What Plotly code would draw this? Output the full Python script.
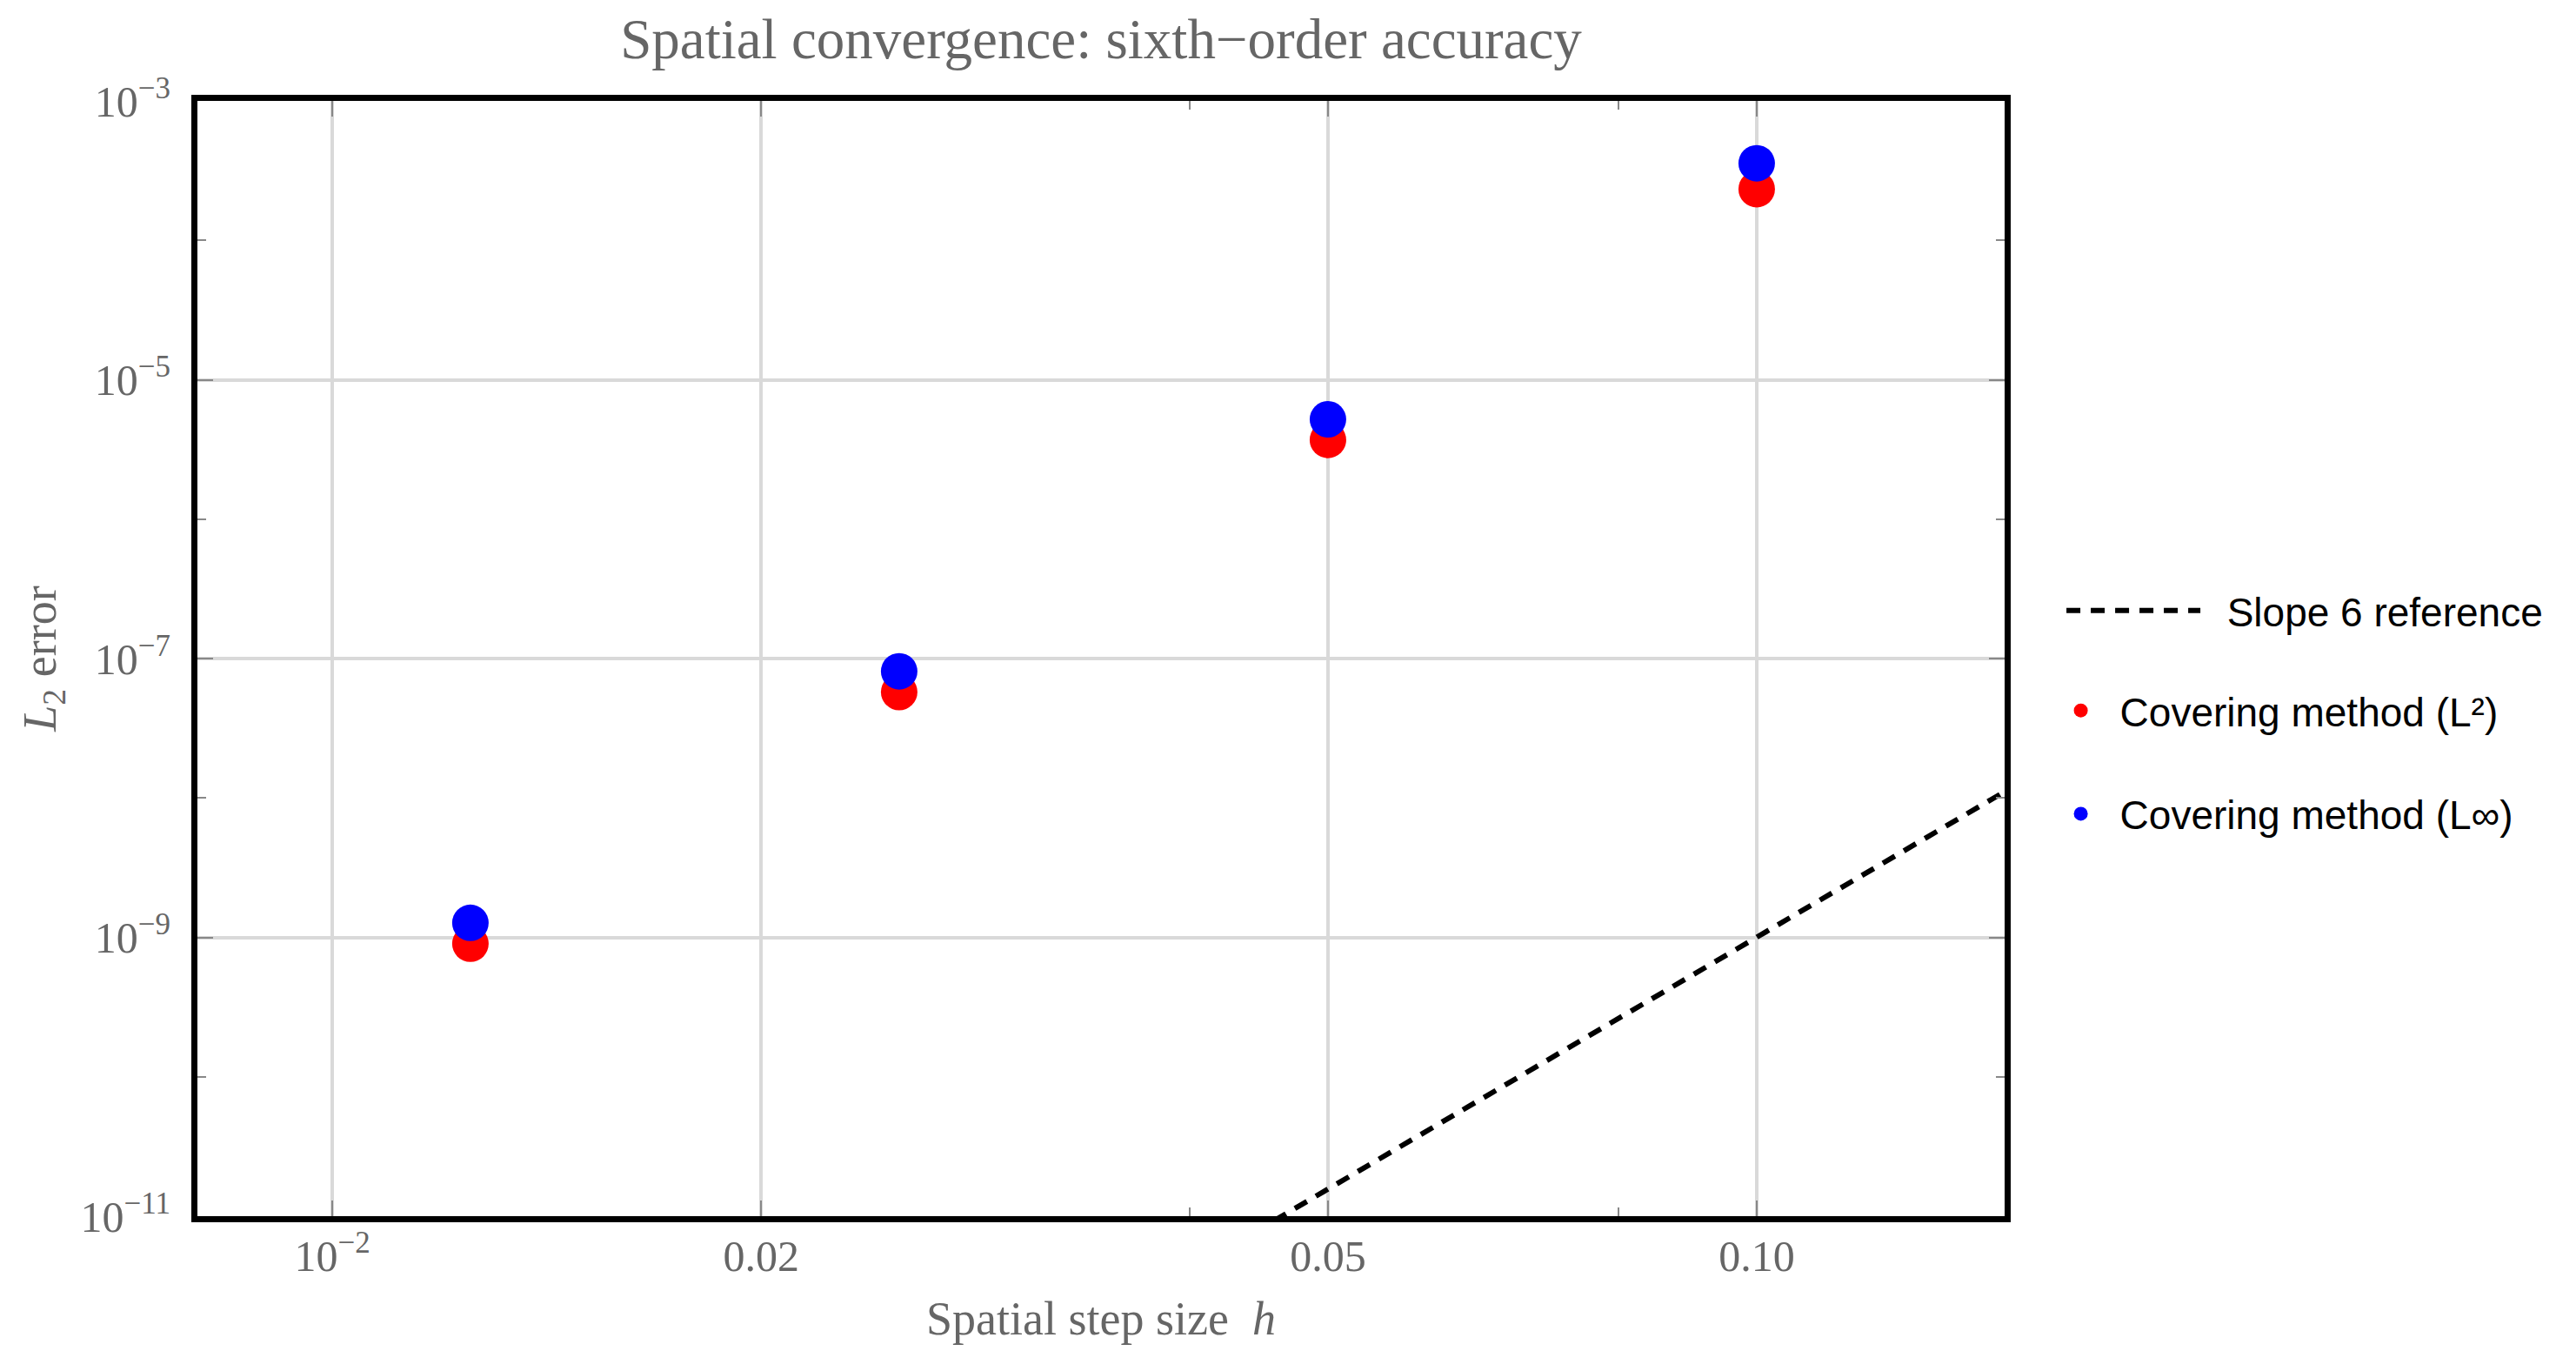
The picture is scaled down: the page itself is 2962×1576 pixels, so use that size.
import numpy as np
import plotly.graph_objects as go

h = [0.0125, 0.025, 0.05, 0.1]
err_l2 = [9.0e-10, 5.75e-8, 3.7e-6, 2.33e-4]
err_linf = [1.27e-9, 8.1e-8, 5.2e-6, 3.57e-4]

# end points of the slope-6 guide line
ref_h = [0.04, 0.16]
ref_err = [4.1e-12, 1.68e-8]

x_tickvals = [0.01, 0.02, 0.05, 0.1]
x_ticktext = ['10<sup>\u22122</sup>', '0.02', '0.05', '0.10']
y_tickvals = [1e-11, 1e-9, 1e-7, 1e-5, 1e-3]
y_ticktext = ['10<sup>\u221211</sup>', '10<sup>\u22129</sup>', '10<sup>\u22127</sup>',
              '10<sup>\u22125</sup>', '10<sup>\u22123</sup>']

SERIF = 'Liberation Serif, Times New Roman, serif'
SANS = 'Liberation Sans, Arial, sans-serif'
GRAY = '#666666'

# the page body has an 8px margin, so the figure is a little smaller than the window
FIG_W, FIG_H = 2946, 1560

fig = go.Figure()

# the guide line gets its own legend so its dash sample can be long
fig.add_trace(
    go.Scatter(
        x=ref_h,
        y=ref_err,
        mode='lines',
        name='\u00a0\u00a0Slope 6 reference',
        line={'color': 'black', 'width': 6, 'dash': '16px,12px'},
        legend='legend',
        showlegend=True,
    )
)

fig.add_trace(
    go.Scatter(
        x=h,
        y=err_l2,
        mode='markers',
        name='Covering method (L\u00b2)',
        marker={'color': '#ff0000', 'size': 42},
        legend='legend2',
        legendgroup='b',
        showlegend=True,
    )
)

fig.add_trace(
    go.Scatter(
        x=h,
        y=err_linf,
        mode='markers',
        name='Covering method (L\u221e)',
        marker={'color': '#0000ff', 'size': 42},
        legend='legend2',
        legendgroup='c',
        showlegend=True,
    )
)

axis_common = dict(
    showline=True,
    linecolor='black',
    linewidth=7,
    mirror='ticks',
    ticks='inside',
    ticklen=18,
    tickwidth=2,
    tickcolor='#888888',
    showgrid=True,
    gridcolor='#d9d9d9',
    gridwidth=3.5,
    zeroline=False,
    tickfont={'family': SERIF, 'size': 50, 'color': GRAY},
)

fig.update_xaxes(
    type='log',
    range=[np.log10(0.00804), np.log10(0.1493)],
    tickvals=x_tickvals,
    ticktext=x_ticktext,
    ticklabelstandoff=-4,
    title={'text': 'Spatial step size  <i>h</i>', 'standoff': 28,
           'font': {'family': SERIF, 'size': 54, 'color': GRAY}},
    minor={'tickvals': [0.04, 0.08], 'ticks': 'inside', 'ticklen': 10,
           'tickcolor': '#888888', 'tickwidth': 2, 'showgrid': False},
    **axis_common,
)

fig.update_yaxes(
    type='log',
    range=[-11, -3],
    tickvals=y_tickvals,
    ticktext=y_ticktext,
    ticklabelstandoff=14,
    title={'text': '<i>L</i><sub>2</sub> error', 'standoff': 13,
           'font': {'family': SERIF, 'size': 54, 'color': GRAY}},
    minor={'tickvals': [1e-10, 1e-8, 1e-6, 1e-4], 'ticks': 'inside', 'ticklen': 10,
           'tickcolor': '#888888', 'tickwidth': 2, 'showgrid': False},
    **axis_common,
)

legend_font = {'family': SANS, 'size': 46, 'color': 'black'}

fig.update_layout(
    width=FIG_W,
    height=FIG_H,
    showlegend=True,
    paper_bgcolor='white',
    plot_bgcolor='white',
    margin={'l': 219, 'r': 649, 't': 108, 'b': 170},
    title={'text': 'Spatial convergence: sixth\u2212order accuracy',
           'x': 0.5, 'xref': 'paper', 'xanchor': 'center',
           'y': 1 - 36 / FIG_H, 'yanchor': 'middle',
           'font': {'family': SERIF, 'size': 65, 'color': GRAY}},
    legend={
        'visible': True,
        'x': 1.0318, 'xanchor': 'left',
        'y': 0.543, 'yanchor': 'middle',
        'font': legend_font,
        'itemwidth': 154,
        'bgcolor': 'rgba(0,0,0,0)',
    },
    legend2={
        'visible': True,
        'x': 1.0205, 'xanchor': 'left',
        'y': 0.407, 'yanchor': 'middle',
        'font': legend_font,
        'itemwidth': 80,
        'tracegroupgap': 56,
        'bgcolor': 'rgba(0,0,0,0)',
    },
)

fig.write_html('out.html')
